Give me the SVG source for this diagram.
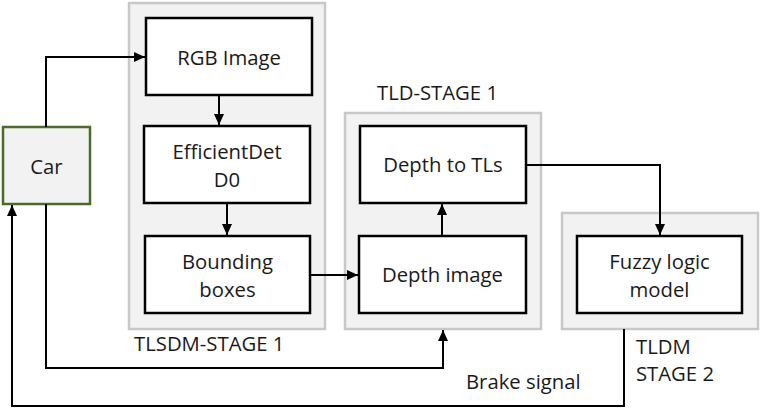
<svg xmlns="http://www.w3.org/2000/svg" width="761" height="410" viewBox="0 0 761 410">
<style>
.cont{fill:#f2f2f2;stroke:#c8c8c8;stroke-width:2.5}
.box{fill:#ffffff;stroke:#000;stroke-width:2.5}
.car{fill:#f2f2f2;stroke:#4a6b2a;stroke-width:2.5}
.t{font-family:"Open Sans","Noto Sans",sans-serif;font-size:20.3px;fill:#1a1a1a;text-anchor:middle;dominant-baseline:central}
.l{font-family:"Open Sans","Noto Sans",sans-serif;font-size:20.3px;fill:#1a1a1a;dominant-baseline:central}
.c{fill:none;stroke:#000;stroke-width:2;marker-end:url(#ah)}
</style>
<defs>
<marker id="ah" markerUnits="userSpaceOnUse" markerWidth="12" markerHeight="10" refX="11" refY="5" orient="auto">
<path d="M0,0 L11,5 L0,10 z" fill="#000"/>
</marker>
</defs>
<rect width="761" height="410" fill="#fff"/>
<g id="tlsdm">
<rect class="cont" x="129" y="3" width="196" height="326"/>
<text class="l" x="134" y="343">TLSDM-STAGE 1</text>
</g>
<g id="tld">
<rect class="cont" x="345" y="113" width="196" height="216"/>
<text class="l" x="377" y="92">TLD-STAGE 1</text>
</g>
<g id="tldm">
<rect class="cont" x="562" y="213" width="196" height="116"/>
<text class="l" x="636" y="346">TLDM</text>
<text class="l" x="636" y="373">STAGE 2</text>
</g>
<g id="car">
<rect class="car" x="3" y="127" width="87" height="77"/>
<text class="t" x="46.5" y="166">Car</text>
</g>
<g id="rgb">
<rect class="box" x="146" y="18" width="166" height="77"/>
<text class="t" x="229" y="57">RGB Image</text>
</g>
<g id="effdet">
<rect class="box" x="144" y="126" width="166" height="77"/>
<text class="t" x="227" y="151">EfficientDet</text>
<text class="t" x="227" y="179">D0</text>
</g>
<g id="bbox">
<rect class="box" x="145" y="236" width="165" height="77"/>
<text class="t" x="227.5" y="261">Bounding</text>
<text class="t" x="227.5" y="289">boxes</text>
</g>
<g id="depthtl">
<rect class="box" x="360" y="126" width="166" height="77"/>
<text class="t" x="443" y="164">Depth to TLs</text>
</g>
<g id="depthimg">
<rect class="box" x="359" y="236" width="167" height="77"/>
<text class="t" x="442.5" y="274">Depth image</text>
</g>
<g id="fuzzy">
<rect class="box" x="577" y="236" width="165" height="77"/>
<text class="t" x="659.5" y="261">Fuzzy logic</text>
<text class="t" x="659.5" y="289">model</text>
</g>
<g id="connectors">
<path class="c" d="M46,127 V57 H145"/>
<path class="c" d="M219,95 V125"/>
<path class="c" d="M227,203 V235"/>
<path class="c" d="M310,275 H358"/>
<path class="c" d="M442,236 V204"/>
<path class="c" d="M526,165 H660 V235"/>
<path class="c" d="M46,204 V368 H443 V330"/>
<path class="c" d="M624,329 V406 H12 V205"/>
<text class="l" x="466" y="381">Brake signal</text>
</g>
</svg>
